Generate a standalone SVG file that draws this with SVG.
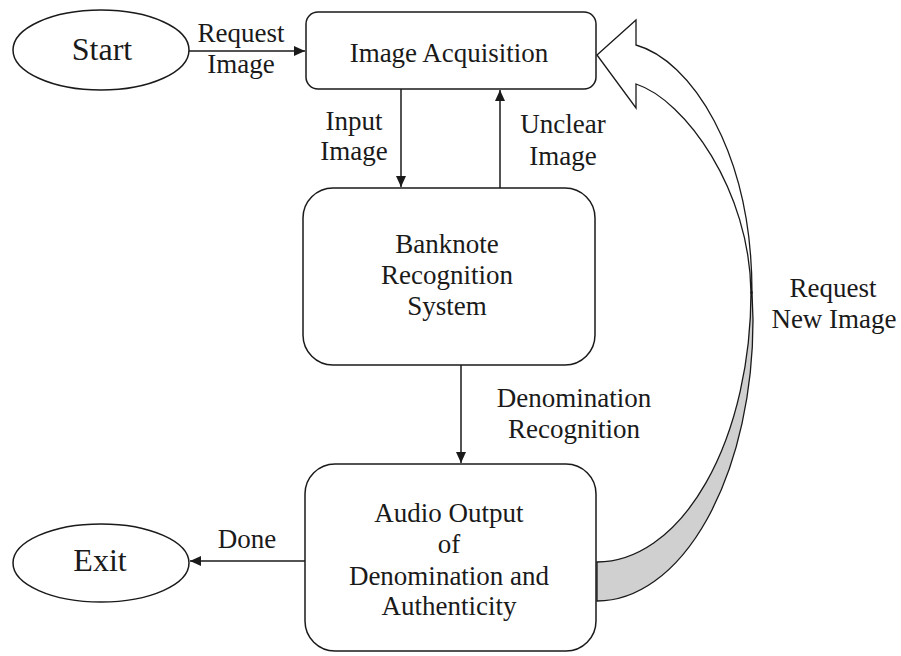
<svg xmlns="http://www.w3.org/2000/svg" width="901" height="656" viewBox="0 0 901 656">
  <style>
    .shape { fill: #ffffff; stroke: #1a1a1a; stroke-width: 1.5; }
    .ribbon { fill: #ffffff; stroke: #1a1a1a; stroke-width: 1.3; stroke-linejoin: miter; }
    .edge { fill: none; stroke: #1a1a1a; stroke-width: 1.5; }
    .lbl { font-family: "Liberation Serif", "Times New Roman", serif; font-size: 27px; fill: #1a1a1a; text-anchor: middle; }
    .term { font-family: "Liberation Serif", "Times New Roman", serif; font-size: 32px; fill: #1a1a1a; text-anchor: middle; }
  </style>
  <defs>
    <marker id="arrow" markerUnits="userSpaceOnUse" markerWidth="12" markerHeight="10" refX="11" refY="5" orient="auto">
      <path d="M0,0 L11,5 L0,10 Z" fill="#1a1a1a"/>
    </marker>
  </defs>

  <rect width="901" height="656" fill="#ffffff"/>

  <!-- connectors -->
  <g id="connectors">
    <line class="edge" x1="189" y1="51" x2="305" y2="51" marker-end="url(#arrow)"/>
    <line class="edge" x1="401" y1="89" x2="401" y2="187" marker-end="url(#arrow)"/>
    <line class="edge" x1="500" y1="188" x2="500" y2="90" marker-end="url(#arrow)"/>
    <line class="edge" x1="461" y1="365" x2="461" y2="463" marker-end="url(#arrow)"/>
    <line class="edge" x1="305" y1="561" x2="190" y2="561" marker-end="url(#arrow)"/>

    <!-- curved block arrow: shaded underside of the ribbon -->
    <path class="ribbon" style="fill:#d0d0d0" d="M597,562 A154,270 0 0 0 751,292 L752,292 L753,320 A156,281 0 0 1 597,601 Z"/>
    <!-- curved block arrow: front face with arrowhead -->
    <path class="ribbon" d="M597,55 L636,20 L636,45 C690,60 752,150 752,293 L751,293 C750,190 685,100 636,84 L636,108 Z"/>

    <text class="lbl" x="241" y="42">Request</text>
    <text class="lbl" x="241" y="73">Image</text>
    <text class="lbl" x="354" y="130">Input</text>
    <text class="lbl" x="354" y="160">Image</text>
    <text class="lbl" x="563" y="133">Unclear</text>
    <text class="lbl" x="563" y="165">Image</text>
    <text class="lbl" x="574" y="407">Denomination</text>
    <text class="lbl" x="574" y="438">Recognition</text>
    <text class="lbl" x="247" y="548">Done</text>
    <text class="lbl" x="833" y="297">Request</text>
    <text class="lbl" x="834" y="328">New Image</text>
  </g>

  <g id="start">
    <ellipse class="shape" cx="101" cy="50" rx="88" ry="40"/>
    <text class="term" x="102" y="60">Start</text>
  </g>

  <g id="image-acquisition">
    <rect class="shape" x="306" y="12" width="290" height="77" rx="12"/>
    <text class="lbl" x="449" y="62">Image Acquisition</text>
  </g>

  <g id="banknote-recognition">
    <rect class="shape" x="303" y="188" width="292" height="177" rx="30"/>
    <text class="lbl" x="447" y="253">Banknote</text>
    <text class="lbl" x="447" y="284">Recognition</text>
    <text class="lbl" x="447" y="315">System</text>
  </g>

  <g id="audio-output">
    <rect class="shape" x="305" y="464" width="291" height="187" rx="30"/>
    <text class="lbl" x="449" y="522">Audio Output</text>
    <text class="lbl" x="449" y="553">of</text>
    <text class="lbl" x="449" y="585">Denomination and</text>
    <text class="lbl" x="449" y="615">Authenticity</text>
  </g>

  <g id="exit">
    <ellipse class="shape" cx="101" cy="563" rx="88" ry="39"/>
    <text class="term" x="100" y="571">Exit</text>
  </g>
</svg>
